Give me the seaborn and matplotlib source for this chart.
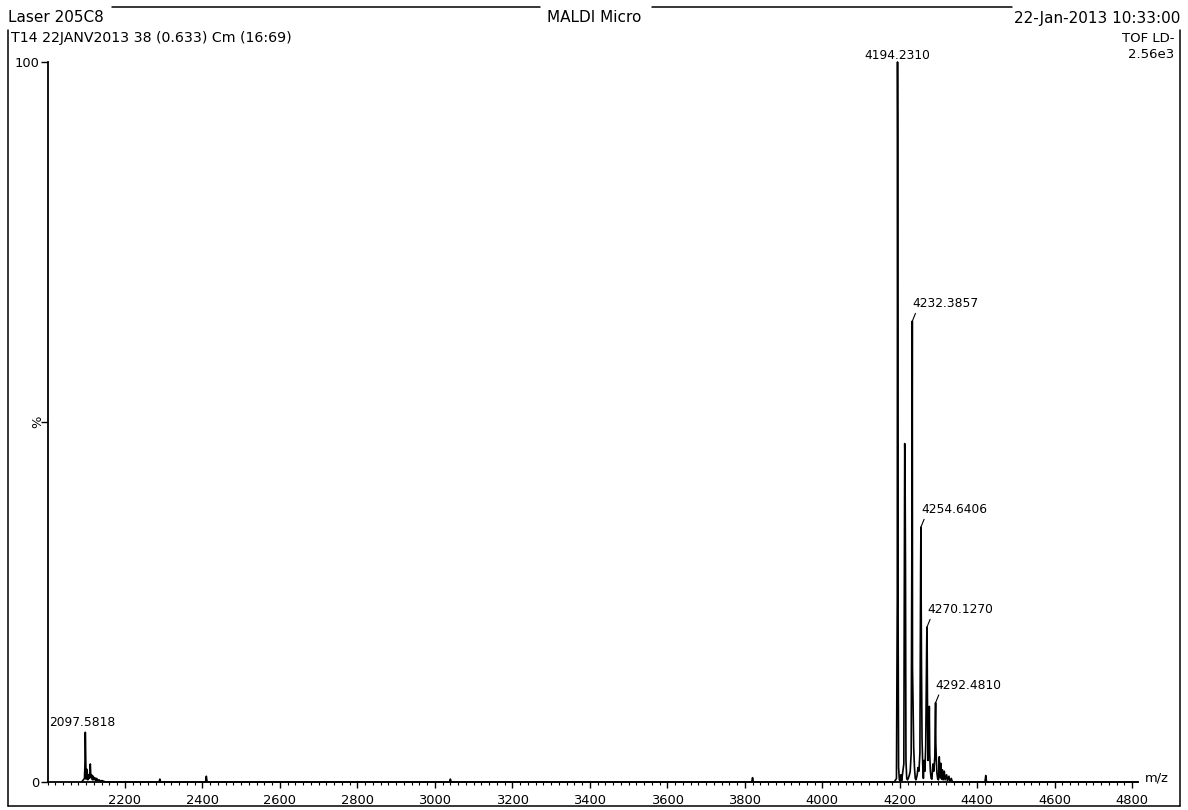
import numpy as np
import pandas as pd
import seaborn as sns
import matplotlib
matplotlib.use("Agg")
import matplotlib.pyplot as plt
from matplotlib.lines import Line2D
from matplotlib.ticker import MultipleLocator

# ---------------- data ----------------
left_mz = [2088, 2095.5, 2097.0, 2097.58, 2098.2, 2099.5, 2101, 2102.5, 2104, 2106,
           2108, 2110.5, 2112, 2114, 2116, 2118, 2120, 2122, 2125, 2127, 2130,
           2133, 2137, 2140, 2145, 2150]
left_int = [0, 0.5, 3.0, 6.9, 5.1, 0.4, 1.8, 1.2, 0.3, 1.0,
            0.5, 2.5, 0.6, 1.0, 0.3, 0.8, 0.3, 0.6, 0.2, 0.5, 0.2,
            0.3, 0.1, 0.2, 0.1, 0]

tiny_mz = [2288, 2290, 2292, 2408, 2410, 2412, 3038, 3040, 3042,
           3818, 3820, 3822, 4420, 4422, 4424, 4815]
tiny_int = [0, 0.4, 0, 0, 0.8, 0, 0, 0.4, 0,
            0, 0.6, 0, 0, 0.9, 0, 0]

main_mz = [4186, 4191.5, 4193.6, 4194.23, 4194.7, 4195.6, 4197, 4199,
           4201, 4203, 4205,
           4208, 4210.5, 4212.8, 4213.6, 4214.8, 4216, 4218, 4220,
           4222, 4225, 4227, 4229.5, 4231.7, 4232.39, 4232.9, 4234, 4236, 4238, 4240, 4242,
           4245, 4247, 4249.5, 4252, 4253.9, 4254.64, 4255.2, 4256, 4257.5, 4259.5, 4261,
           4263, 4265, 4267, 4269.5, 4270.13, 4270.7, 4271.8, 4273, 4275, 4276.3, 4277.3, 4279, 4281,
           4283, 4285.5, 4288, 4290.5, 4291.9, 4292.48, 4293.1, 4294.5, 4296, 4298,
           4300, 4302, 4304, 4306, 4308, 4310, 4312, 4315, 4317, 4321, 4323, 4327, 4329, 4333, 4336, 4340]
main_int = [0, 0.5, 25.6, 100, 89.6, 25.6, 2, 0.3,
            0.2, 1.0, 0.2,
            1.5, 2.5, 47, 44.5, 30, 3, 0.5, 0.3,
            0.5, 1.0, 1.5, 4, 40, 64, 16, 12, 4.7, 2, 0.5, 0.3,
            1, 2, 1.5, 4, 30, 35.4, 26.4, 17, 6, 2, 0.5,
            3, 1.5, 5, 19, 21.5, 19.4, 8.6, 3, 6, 10.5, 4, 1.5, 0.5,
            0.4, 2.5, 1.5, 3.5, 9, 11, 5.4, 3, 1.2, 0.4,
            0.3, 3.5, 0.6, 2.6, 0.4, 1.7, 0.3, 1.5, 0.3, 1.0, 0.2, 0.8, 0.1, 0.5, 0, 0]

peak_labels = ["2097.5818", "4194.2310", "4232.3857", "4254.6406", "4270.1270", "4292.4810"]
peak_mz = [2097.58, 4194.23, 4232.39, 4254.64, 4270.13, 4292.48]
peak_int = [6.9, 100, 64, 35.4, 21.5, 11]

x_ticks = [2200, 2400, 2600, 2800, 3000, 3200, 3400, 3600, 3800, 4000, 4200, 4400, 4600, 4800]

# ---------------- figure ----------------
sns.set_style("white")
plt.rcParams['font.family'] = ['DejaVu Sans']
plt.rcParams['text.color'] = 'black'
plt.rcParams['xtick.color'] = 'black'
plt.rcParams['ytick.color'] = 'black'
plt.rcParams['axes.labelcolor'] = 'black'

W, H = 1188, 810
fig = plt.figure(figsize=(W / 100, H / 100), dpi=100)
ax = fig.add_axes([47.5 / W, 28 / H, (1138 - 47.5) / W, 720 / H])

df = pd.DataFrame({"mz": left_mz + tiny_mz + main_mz,
                   "pct": left_int + tiny_int + main_int}).sort_values("mz", kind="stable")
sns.lineplot(data=df, x="mz", y="pct", estimator=None, sort=False,
             color="black", lw=1.2, ax=ax, clip_on=False)

ax.set_xlim(2000, 4815)
ax.set_ylim(0, 100)
ax.set_xlabel("")
ax.set_ylabel("")
for s in ["top", "right"]:
    ax.spines[s].set_visible(False)
for s in ["left", "bottom"]:
    ax.spines[s].set_color("black")
    ax.spines[s].set_linewidth(1.3)

ax.set_xticks(x_ticks)
ax.set_xticklabels([str(t) for t in x_ticks], fontsize=9.4, color="black")
ax.xaxis.set_minor_locator(MultipleLocator(20))
ax.tick_params(axis="x", which="major", direction="out", length=4, width=1, color="black", pad=5)
ax.tick_params(axis="x", which="minor", direction="out", length=2.5, width=0.8, color="black")
ax.tick_params(axis="x", which="both", bottom=True)

ax.set_yticks([0, 50, 100])
ax.set_yticklabels(["0", "", "100"], fontsize=9.4, color="black")
ax.tick_params(axis="y", which="major", direction="out", length=5, width=1, color="black", pad=1)
ax.tick_params(axis="y", which="both", left=True)

ax.text(-0.0085, 0.5, "%", transform=ax.transAxes, rotation=90, ha="center", va="center",
        fontsize=9.4, color="black")
ax.annotate("m/z", xy=(1, 0), xycoords="axes fraction", xytext=(5, 3),
            textcoords="offset points", ha="left", va="center", fontsize=9.4, color="black")

# peak annotations
for lab, mz, h in zip(peak_labels, peak_mz, peak_int):
    if lab == "4194.2310":
        ax.annotate(lab, xy=(mz, h), xytext=(0, 0), textcoords="offset points",
                    ha="center", va="bottom", fontsize=8.8, color="black")
    elif lab == "2097.5818":
        ax.annotate(lab, xy=(mz, h), xytext=(-26, 2.5), textcoords="offset points",
                    ha="left", va="bottom", fontsize=8.8, color="black")
    else:
        ax.annotate(lab, xy=(mz, h), xytext=(0, 8), textcoords="offset points",
                    ha="left", va="bottom", fontsize=8.8, color="black",
                    arrowprops=dict(arrowstyle="-", lw=0.8, color="black",
                                    shrinkA=0, shrinkB=0, relpos=(0.08, 0.15)))

# ---------------- header and frame ----------------
def fx(x):
    return x / W

def fy(y):
    return 1 - y / H

lw = 1.1
fig.add_artist(Line2D([fx(8), fx(8)], [fy(30), fy(806)], color="black", lw=lw))
fig.add_artist(Line2D([fx(1180), fx(1180)], [fy(30), fy(806)], color="black", lw=lw))
fig.add_artist(Line2D([fx(8), fx(1180)], [fy(806), fy(806)], color="black", lw=lw))
fig.add_artist(Line2D([fx(112), fx(540)], [fy(7), fy(7)], color="black", lw=lw))
fig.add_artist(Line2D([fx(652), fx(1012)], [fy(7), fy(7)], color="black", lw=lw))

fig.text(fx(8), fy(18), "Laser 205C8", ha="left", va="center", fontsize=11, color="black")
fig.text(fx(594), fy(18), "MALDI Micro", ha="center", va="center", fontsize=11, color="black")
fig.text(fx(1180), fy(18), "22-Jan-2013 10:33:00", ha="right", va="center", fontsize=11, color="black")
fig.text(fx(11), fy(38), "T14 22JANV2013 38 (0.633) Cm (16:69)", ha="left", va="center",
         fontsize=10.2, color="black")
fig.text(fx(1174), fy(38), "TOF LD-", ha="right", va="center", fontsize=9.5, color="black")
fig.text(fx(1174), fy(55), "2.56e3", ha="right", va="center", fontsize=9.5, color="black")

fig.savefig("out.png", dpi=100, facecolor="white")
